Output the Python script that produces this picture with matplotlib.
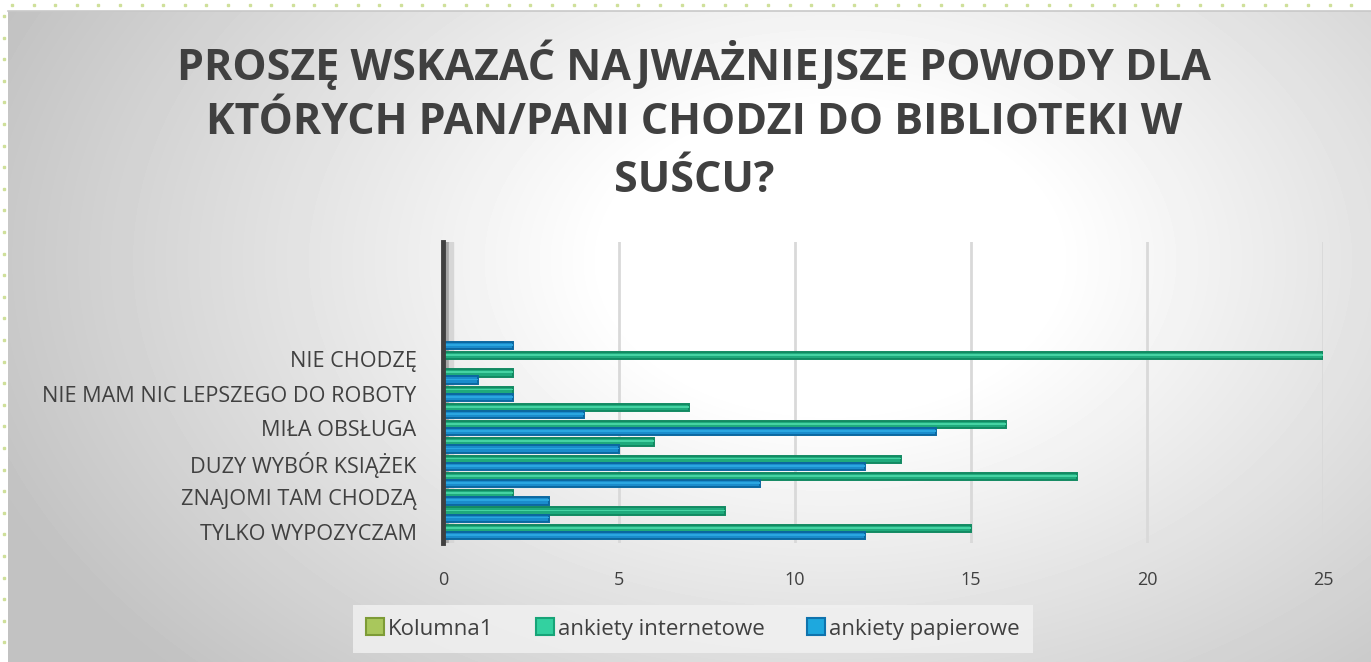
import numpy as np
import matplotlib
matplotlib.use("Agg")
import matplotlib.pyplot as plt
from matplotlib.patches import Patch

plt.rcParams['font.family'] = ['Open Sans', 'DejaVu Sans']

#---------------------dane-------------------
title_lines = ["PROSZĘ WSKAZAĆ NAJWAŻNIEJSZE POWODY DLA",
               "KTÓRYCH PAN/PANI CHODZI DO BIBLIOTEKI W",
               "SUŚCU?"]
# kategorie od dolu; co druga etykieta nie jest wyswietlana na wykresie
categories = ["TYLKO WYPOZYCZAM", "", "ZNAJOMI TAM CHODZĄ", "",
              "DUZY WYBÓR KSIĄŻEK", "", "MIŁA OBSŁUGA", "",
              "NIE MAM NIC LEPSZEGO DO ROBOTY", "", "NIE CHODZĘ", ""]
internet = [15, 8, 2, 18, 13, 6, 16, 7, 2, 2, 25, 0]
papier = [12, 3, 3, 9, 12, 5, 14, 4, 2, 1, 0, 2]
series_names = ["Kolumna1", "ankiety internetowe", "ankiety papierowe"]
xticks = [0, 5, 10, 15, 20, 25]

#---------------------figure-------------------
W, H = 1371, 662
fig = plt.figure(figsize=(W/100, H/100), dpi=100, facecolor='white')

# tlo z gradientem radialnym
bg = fig.add_axes([8/W, 0, 1-8/W, 1-11/H])
yy, xx = np.mgrid[11:H, 8:W]
r = np.sqrt(((xx-830)/900.)**2 + ((yy-260)/600.)**2)
val = 1 - 0.24*np.clip((r-0.25)/0.75, 0, 1)
bg.imshow(val, cmap='gray', vmin=0, vmax=1, aspect='auto', extent=[0, 1, 0, 1])
bg.axis('off')
fig.add_artist(plt.Line2D([8/W, 1], [1-11/H, 1-11/H], color='#c8c8c8', lw=1.2))

# kropki na ramce
dots_x = np.arange(12, W, 21.6)
dots_y = np.arange(16, H, 21.6)
fig.add_artist(plt.Line2D(dots_x/W, np.full(len(dots_x), 1-5/H), ls='none',
                          marker='s', ms=2, color='#cfe09a'))
fig.add_artist(plt.Line2D(np.full(len(dots_y), 4/W), 1-dots_y/H, ls='none',
                          marker='s', ms=2, color='#cfe09a'))

for i, line in enumerate(title_lines):
    fig.text(694/W, 1-(65+58*i)/H, line, ha='center', va='center',
             fontsize=31, fontweight='bold', color='#404040')

#---------------------wykres-------------------
ax = fig.add_axes([443/W, 1-543/H, 880/W, 301/H])
ax.patch.set_alpha(0)
y = np.arange(len(categories))
h = 0.42

ax.axvspan(0, 0.17, color='#a6a6a6', zorder=1)
ax.axvspan(0.17, 0.28, color='#d6d6d6', zorder=1)

ax.barh(y+0.21, internet, height=h, color='#1faa7c', edgecolor='#128a62',
        lw=1.4, zorder=3)
ax.barh(y+0.25, internet, height=0.1, color='#45d3a3', lw=0, zorder=4)
ax.barh(y-0.2, papier, height=h, color='#1a8ccc', edgecolor='#0b68a0',
        lw=1.4, zorder=3)
ax.barh(y-0.16, papier, height=0.1, color='#2aa6e0', lw=0, zorder=4)

ax.set_xlim(0, 25)
ax.set_ylim(-0.64, 16.8)
ax.set_xticks(xticks)
ax.set_yticks(y[::2])
ax.set_yticklabels(categories[::2])
ax.tick_params(axis='x', length=0, pad=20, labelsize=13, labelcolor='#404040')
ax.tick_params(axis='y', length=0, pad=19, labelsize=15.6, labelcolor='#404040')
ax.grid(axis='x', color='#d9d9d9', lw=2, zorder=0)
ax.set_axisbelow(True)
for s in ['top', 'right', 'bottom']:
    ax.spines[s].set_visible(False)
ax.spines['left'].set_color('#404040')
ax.spines['left'].set_linewidth(3.5)
ax.spines['left'].set_zorder(5)

handles = [Patch(facecolor='#a9c75c', edgecolor='#7d9b36', lw=1.5),
           Patch(facecolor='#33d1a0', edgecolor='#17a478', lw=1.5),
           Patch(facecolor='#1ea8de', edgecolor='#0f73ad', lw=1.5)]
leg = fig.legend(handles, series_names, loc='center', ncol=3,
                 bbox_to_anchor=(693/W, 1-629/H), fontsize=16,
                 handlelength=0.8, handleheight=0.8, handletextpad=0.2,
                 columnspacing=1.9, frameon=True, fancybox=False,
                 borderpad=0.6)
leg.get_frame().set_facecolor('#f2f2f2')
leg.get_frame().set_edgecolor('none')
leg.get_frame().set_alpha(0.8)
for t in leg.get_texts():
    t.set_color('#404040')

fig.savefig('out.png', dpi=100)
